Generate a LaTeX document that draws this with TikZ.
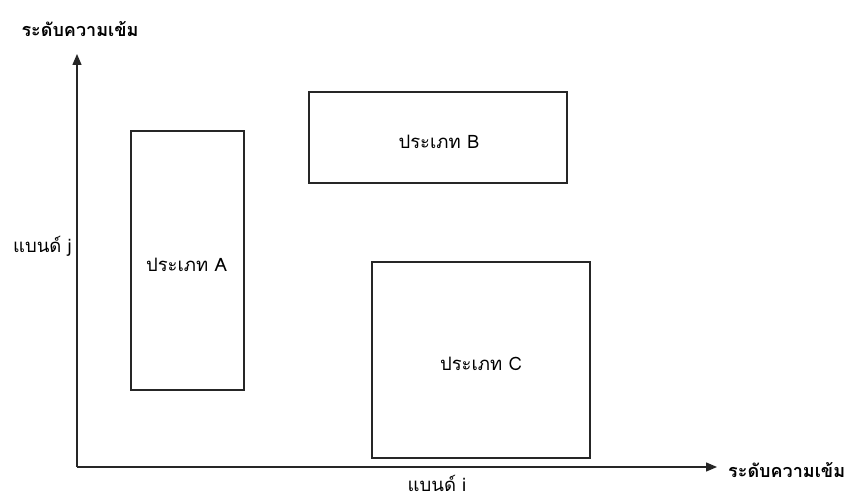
\documentclass[tikz,border=0pt]{standalone}
\usepackage{fontspec}
\newfontfamily\thaifont[Script=Thai]{Loma}
\usetikzlibrary{arrows.meta}
\begin{document}
\begin{tikzpicture}[x=1bp,y=-1bp,
  box/.style={draw=black!85,line width=1.4bp,inner sep=0pt},
  lbl/.style={font=\thaifont\fontsize{18.5bp}{21bp}\selectfont,inner sep=0pt},
  axlbl/.style={font=\thaifont\bfseries\fontsize{18bp}{21bp}\selectfont,inner sep=0pt},
  axis/.style={draw=black!85,line width=1.4bp,-{Triangle[length=11bp,width=9bp]}}]
\useasboundingbox (0,0) rectangle (847,499);
\coordinate (O) at (77,467);
\coordinate (Ytop) at (77,54);
\coordinate (Xend) at (717,467);
\draw[axis] (O) -- (Ytop);
\draw[axis] (O) -- (Xend);
\node[box,minimum width=113bp,minimum height=259bp] (A) at (187.5,260.5) {};
\node[lbl] (At) at (186.5,265) {ประเภท A};
\node[box,minimum width=258bp,minimum height=91bp] (B) at (438,137.5) {};
\node[lbl] (Bt) at (439,142) {ประเภท B};
\node[box,minimum width=218bp,minimum height=196bp] (C) at (481,360) {};
\node[lbl] (Ct) at (481,364) {ประเภท C};
\node[axlbl] (ylab) at (80,29) {ระดับความเข้ม};
\node[axlbl,anchor=west] (xlab) at (728,470) {ระดับความเข้ม};
\node[lbl,anchor=east] (jlab) at (72,246) {แบนด์ j};
\node[lbl] (ilab) at (437,483) {แบนด์ i};
\end{tikzpicture}
\end{document}
